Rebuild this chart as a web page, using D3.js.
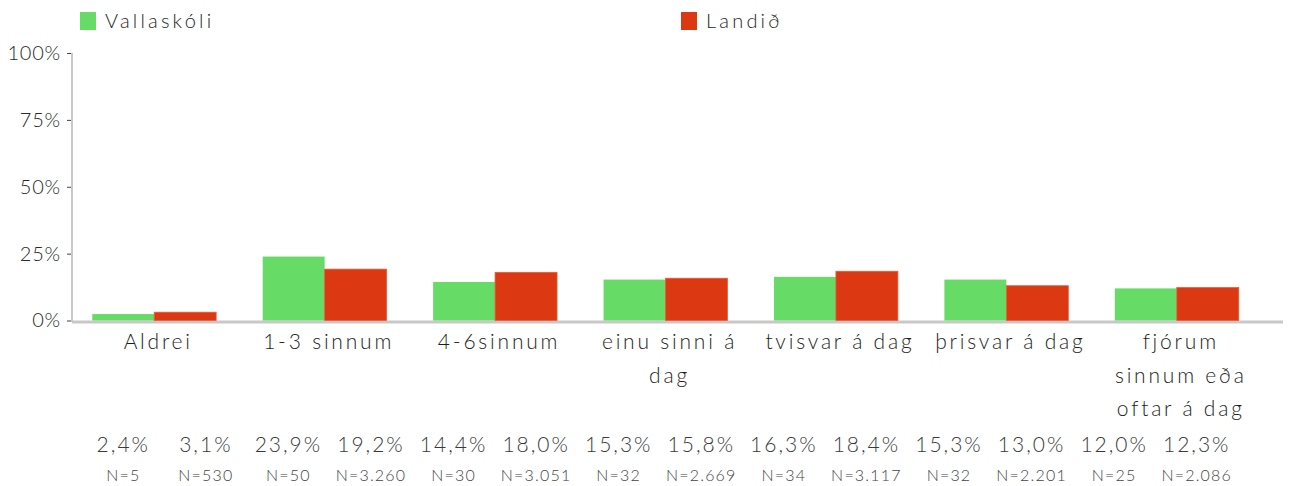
<!DOCTYPE html>
<html>
<head>
<meta charset="utf-8">
<script src="https://cdn.jsdelivr.net/npm/d3@7"></script>
<style>
  body { margin: 0; background: #fff; }
  svg { display: block; }
  text { font-family: Lato, "Noto Sans", sans-serif; font-weight: 300; }
</style>
</head>
<body>
<svg id="chart" width="1290" height="486"></svg>
<script>
// Answer categories and their wrapped label lines
const categories = ["Aldrei", "1-3 sinnum", "4-6sinnum", "einu sinni á dag", "tvisvar á dag", "þrisvar á dag", "fjórum sinnum eða oftar á dag"];
const categoryLines = [["Aldrei"], ["1-3 sinnum"], ["4-6sinnum"], ["einu sinni á", "dag"], ["tvisvar á dag"], ["þrisvar á dag"], ["fjórum", "sinnum eða", "oftar á dag"]];

// Series
const seriesNames = ["Vallaskóli", "Landið"];
const vallaskoli = [2.4, 23.9, 14.4, 15.3, 16.3, 15.3, 12.0];
const landid = [3.1, 19.2, 18.0, 15.8, 18.4, 13.0, 12.3];
const vallaskoliN = ["5", "50", "30", "32", "34", "32", "25"];
const landidN = ["530", "3.260", "3.051", "2.669", "3.117", "2.201", "2.086"];

// Y axis ticks (percent)
const yTicks = [0, 25, 50, 75, 100];
const colors = ["#66db66", "#dc3912"];

const svg = d3.select("#chart");
const seriesValues = [vallaskoli, landid];
const seriesN = [vallaskoliN, landidN];

const x = d3.scaleBand().domain(categories).range([69, 1262]).paddingInner(0.273).paddingOuter(0.1365);
const xs = d3.scaleBand().domain(seriesNames).range([0, x.bandwidth()]);
const y = d3.scaleLinear().domain([0, 100]).range([320.5, 53]);

// Horizontal baseline
svg.append("line")
  .attr("x1", 72).attr("x2", 1283)
  .attr("y1", 322).attr("y2", 322)
  .attr("stroke", "#c8c8c8").attr("stroke-width", 3);

// Vertical axis line
svg.append("line")
  .attr("x1", 72).attr("x2", 72)
  .attr("y1", y(100)).attr("y2", 322)
  .attr("stroke", "#c8c8c8").attr("stroke-width", 2);

// Y axis ticks and labels
const yAxis = svg.append("g")
  .attr("transform", "translate(71,0)")
  .call(d3.axisLeft(y).tickValues(yTicks).tickFormat(d => d + "%").tickSize(4).tickPadding(6));
yAxis.select(".domain").remove();
yAxis.selectAll(".tick line").attr("stroke", "#444");
yAxis.selectAll(".tick text")
  .attr("fill", "#2a2a2a")
  .style("font-size", "20px")
  .style("font-family", "Lato, 'Noto Sans', sans-serif")
  .style("font-weight", "300")
  .style("letter-spacing", "0.8px");

// Bars
const groups = svg.append("g").selectAll("g")
  .data(categories)
  .join("g")
  .attr("transform", d => `translate(${x(d)},0)`);

groups.selectAll("rect")
  .data((d, i) => seriesNames.map((s, j) => ({ s, v: seriesValues[j][i], j })))
  .join("rect")
  .attr("x", d => xs(d.s))
  .attr("width", xs.bandwidth())
  .attr("y", d => y(d.v))
  .attr("height", d => y(0) - y(d.v))
  .attr("fill", d => colors[d.j])
  .attr("stroke", d => d.j === 1 ? "#e65a3a" : "none")
  .attr("stroke-width", 0.8);

// Category labels
const catLabels = svg.append("g").selectAll("text")
  .data(categories)
  .join("text")
  .attr("x", d => x(d) + x.bandwidth() / 2 + 4)
  .attr("y", 349)
  .attr("text-anchor", "middle")
  .attr("fill", "#1e1e1e")
  .style("font-size", "21px")
  .style("letter-spacing", "2.8px");
catLabels.each(function (d, i) {
  const t = d3.select(this);
  categoryLines[i].forEach((line, k) => {
    t.append("tspan")
      .attr("x", x(d) + x.bandwidth() / 2 + 4)
      .attr("dy", k === 0 ? 0 : 33.5)
      .text(line);
  });
});

// Legend
const legend = svg.append("g");
const legendX = [80, 681];
seriesNames.forEach((s, j) => {
  legend.append("rect")
    .attr("x", legendX[j]).attr("y", 12)
    .attr("width", 16).attr("height", 18)
    .attr("fill", colors[j]);
  legend.append("text")
    .attr("x", legendX[j] + 25).attr("y", 28)
    .attr("fill", "#1e1e1e")
    .style("font-size", "20px")
    .style("letter-spacing", "3.2px")
    .text(s);
});

// Value table under the chart: percent and N for each bar
const cols = [];
categories.forEach((c, i) => {
  seriesNames.forEach((s, j) => {
    cols.push({ v: seriesValues[j][i], n: seriesN[j][i] });
  });
});
const colScale = d3.scaleBand().domain(d3.range(cols.length)).range([82, 1238]);
const fmt = v => v.toFixed(1).replace(".", ",") + "%";

svg.append("g").selectAll("text")
  .data(cols)
  .join("text")
  .attr("x", (d, i) => colScale(i) + colScale.bandwidth() / 2)
  .attr("y", 452)
  .attr("text-anchor", "middle")
  .attr("fill", "#3a3a3a")
  .style("font-size", "21px")
  .style("letter-spacing", "2px")
  .text(d => fmt(d.v));

svg.append("g").selectAll("text")
  .data(cols)
  .join("text")
  .attr("x", (d, i) => colScale(i) + colScale.bandwidth() / 2)
  .attr("y", 481)
  .attr("text-anchor", "middle")
  .attr("fill", "#444")
  .style("font-size", "16px")
  .style("letter-spacing", "1.2px")
  .text(d => "N=" + d.n);
</script>
</body>
</html>
